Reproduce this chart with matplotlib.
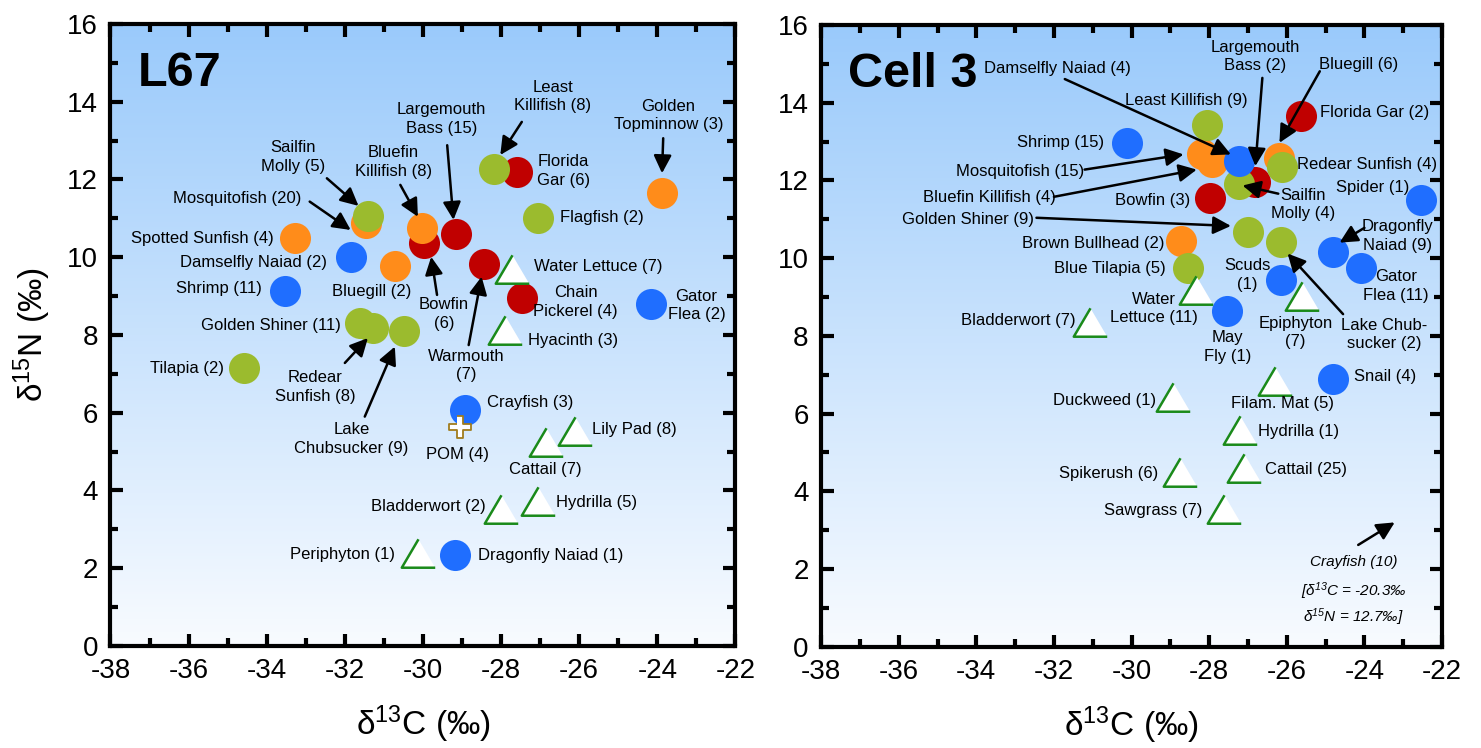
import numpy as np
import matplotlib
matplotlib.use("Agg")
import matplotlib.pyplot as plt
from matplotlib import font_manager
from matplotlib.colors import LinearSegmentedColormap
from matplotlib.ticker import MultipleLocator

# ---- data: L67 ----
l67_taxa = ["Least\nKillifish", "Florida\nGar", "Golden\nTopminnow", "Flagfish", "Sailfin\nMolly",
            "Mosquitofish", "Spotted Sunfish", "Damselfly Naiad", "Bluefin\nKillifish", "Bowfin\n",
            "Largemouth\nBass", "Bluegill", "Warmouth\n", "Chain\nPickerel", "Gator\nFlea",
            "Shrimp", "Golden Shiner", "Redear\nSunfish", "Lake\nChubsucker", "Tilapia",
            "Crayfish", "Dragonfly Naiad", "Water Lettuce", "Hyacinth", "Cattail",
            "Lily Pad", "Bladderwort", "Hydrilla", "Periphyton", "POM"]
l67_n = [8, 6, 3, 2, 5, 20, 4, 2, 8, 6, 15, 2, 7, 4, 2, 11, 11, 8, 9, 2, 3, 1, 7, 3, 7, 8, 2, 5, 1, 4]
l67_group = ["g", "r", "o", "g", "g", "o", "o", "b", "o", "r", "r", "o", "r", "r", "b",
             "b", "g", "g", "g", "g", "b", "b", "p", "p", "p", "p", "p", "p", "p", "pom"]
l67_d13c = [-28.17, -27.60, -23.88, -27.06, -31.42, -31.47, -33.28, -31.85, -30.02, -29.98,
            -29.16, -30.71, -28.43, -27.47, -24.15, -33.53, -31.61, -31.29, -30.49, -34.59,
            -28.93, -29.18, -27.72, -27.90, -26.84, -26.12, -28.01, -27.05, -30.13, -29.05]
l67_d15n = [12.26, 12.18, 11.66, 11.00, 11.07, 10.87, 10.50, 10.00, 10.76, 10.36,
            10.60, 9.78, 9.83, 8.96, 8.79, 9.13, 8.32, 8.19, 8.09, 7.14,
            6.06, 2.33, 9.70, 8.13, 5.24, 5.54, 3.52, 3.72, 2.39, 5.63]

# ---- data: Cell 3 ----
c3_taxa = ["Florida Gar", "Least Killifish", "Shrimp", "Mosquitofish", "Bluefin Killifish",
           "Damselfly Naiad", "Largemouth\nBass", "Sailfin\nMolly", "Bluegill", "Redear Sunfish",
           "Bowfin", "Spider", "Golden Shiner", "Lake Chub-\nsucker", "Brown Bullhead",
           "Dragonfly\nNaiad", "Gator\nFlea", "Blue Tilapia", "Scuds\n", "May\nFly",
           "Snail", "Water\nLettuce", "Epiphyton\n", "Bladderwort", "Filam. Mat",
           "Duckweed", "Hydrilla", "Spikerush", "Cattail", "Sawgrass"]
c3_n = [2, 9, 15, 15, 4, 4, 2, 4, 6, 4, 3, 1, 9, 2, 2, 9, 11, 5, 1, 1, 4, 11, 7, 7, 5, 1, 1, 6, 25, 7]
c3_group = ["r", "g", "b", "o", "o", "b", "r", "g", "o", "g", "r", "b", "g", "g", "o",
            "b", "b", "g", "b", "b", "b", "p", "p", "p", "p", "p", "p", "p", "p", "p"]
c3_d13c = [-25.64, -28.06, -30.12, -28.19, -27.93, -27.22, -26.81, -27.24, -26.21, -26.13,
           -27.99, -22.54, -26.99, -26.14, -28.72, -24.82, -24.10, -28.54, -26.16, -27.53,
           -24.80, -28.33, -25.62, -31.07, -26.31, -28.92, -27.20, -28.75, -27.11, -27.62]
c3_d15n = [13.65, 13.42, 12.97, 12.69, 12.48, 12.50, 11.96, 11.92, 12.57, 12.35,
           11.54, 11.51, 10.68, 10.42, 10.44, 10.17, 9.76, 9.76, 9.44, 8.64,
           6.90, 9.18, 9.03, 8.37, 6.85, 6.44, 5.58, 4.50, 4.61, 3.54]
crayfish_c3 = (10, -20.3, 12.7)  # n, d13C, d15N (off scale)

# ---- label layout ----
l67_lab = [(-26.68, 14.13, "center"), (-26.41, 12.22, "center"), (-23.72, 13.64, "center"),
           (-26.48, 11.02, "left"), (-33.33, 12.58, "center"), (-34.75, 11.51, "center"),
           (-35.64, 10.49, "center"), (-34.35, 9.87, "center"), (-30.75, 12.45, "center"),
           (-29.46, 8.54, "center"), (-29.52, 13.55, "center"), (-31.31, 9.13, "center"),
           (-28.89, 7.21, "center"), (-26.09, 8.85, "center"), (-23.00, 8.76, "center"),
           (-35.22, 9.19, "center"), (-33.89, 8.24, "center"), (-32.76, 6.66, "center"),
           (-31.83, 5.33, "center"), (-36.04, 7.14, "center"), (-28.37, 6.25, "left"),
           (-28.59, 2.33, "left"), (-27.17, 9.76, "left"), (-27.32, 7.85, "left"),
           (-26.86, 4.54, "center"), (-25.67, 5.56, "left"), (-29.86, 3.59, "center"),
           (-26.60, 3.69, "left"), (-32.06, 2.36, "center"), (-29.11, 4.93, "center")]
l67_arrows = [(-27.47, 13.48, -28.02, 12.63), (-23.85, 13.06, -23.88, 12.16),
              (-29.38, 12.88, -29.22, 10.96), (-32.46, 12.03, -31.65, 11.32),
              (-32.90, 11.43, -31.85, 10.70), (-30.58, 11.86, -30.13, 11.04),
              (-29.64, 9.03, -29.79, 10.01), (-28.83, 7.74, -28.50, 9.50),
              (-32.00, 7.28, -31.41, 7.92), (-31.49, 5.90, -30.72, 7.70)]

c3_lab = [(-25.15, 13.74, "left"), (-28.60, 14.05, "center"), (-31.84, 12.99, "center"),
          (-32.88, 12.22, "center"), (-33.67, 11.56, "center"), (-31.91, 14.89, "center"),
          (-26.81, 15.19, "center"), (-25.58, 11.38, "center"), (-24.16, 14.98, "center"),
          (-25.75, 12.41, "left"), (-29.47, 11.48, "center"), (-23.79, 11.83, "center"),
          (-34.22, 11.00, "center"), (-23.49, 8.04, "center"), (-30.99, 10.38, "center"),
          (-23.15, 10.57, "center"), (-23.18, 9.28, "center"), (-30.57, 9.73, "center"),
          (-27.01, 9.56, "center"), (-27.53, 7.72, "center"), (-24.28, 6.96, "left"),
          (-29.42, 8.71, "center"), (-25.77, 8.09, "center"), (-32.91, 8.39, "center"),
          (-26.10, 6.27, "center"), (-30.69, 6.34, "center"), (-26.75, 5.54, "left"),
          (-30.60, 4.45, "center"), (-26.56, 4.56, "left"), (-29.44, 3.50, "center")]
c3_arrows = [(-31.72, 14.61, -27.44, 12.67), (-26.63, 14.64, -26.81, 12.37),
             (-25.15, 14.81, -26.19, 12.97), (-31.21, 12.28, -28.66, 12.67),
             (-32.00, 11.58, -28.32, 12.28), (-26.22, 11.66, -27.14, 11.87),
             (-32.45, 11.04, -27.44, 10.83), (-24.55, 8.56, -25.98, 10.12),
             (-24.00, 10.78, -24.64, 10.40), (-24.16, 2.62, -23.22, 3.20)]

# ---- styles ----
names = {f.name for f in font_manager.fontManager.ttflist}
base = "Liberation Sans Narrow" if "Liberation Sans Narrow" in names else "Liberation Sans"
plt.rcParams["font.family"] = [base, "DejaVu Sans"]
plt.rcParams["mathtext.fontset"] = "custom"
plt.rcParams["mathtext.rm"] = base
plt.rcParams["mathtext.it"] = base + ":italic"
plt.rcParams["mathtext.default"] = "regular"
plt.rcParams["axes.unicode_minus"] = False

fill = {"r": "#C00000", "o": "#FF8C1A", "g": "#9BBB2E", "b": "#1F6EFF"}
tri = [(0, 0.85), (-1, -0.85), (1, -0.85)]
w = 0.33
plus = [(-w, 1), (w, 1), (w, w), (1, w), (1, -w), (w, -w), (w, -1), (-w, -1),
        (-w, -w), (-1, -w), (-1, w), (-w, w)]
bg = LinearSegmentedColormap.from_list("bg", ["#F8FBFF", "#9ACAFB"])


def label_text(t, n):
    return f"{t}({n})" if t.endswith("\n") else f"{t} ({n})"


def panel(ax, taxa, n, group, d13c, d15n, lab, arrows, title):
    ax.imshow(np.linspace(0, 1, 256).reshape(-1, 1), cmap=bg, origin="lower",
              extent=[-38, -22, 0, 16], aspect="auto", zorder=0)
    d13c = np.array(d13c)
    d15n = np.array(d15n)
    group = np.array(group)
    for g in ["r", "o", "g", "b"]:
        m = group == g
        ax.scatter(d13c[m], d15n[m], s=500, c=fill[g], linewidths=0, zorder=3)
    m = group == "p"
    ax.scatter(d13c[m], d15n[m], s=580, marker=tri, facecolor="white",
               edgecolor="#1A8A1A", linewidths=1.8, zorder=4)
    m = group == "pom"
    ax.scatter(d13c[m], d15n[m], s=230, marker=plus, facecolor="white",
               edgecolor="#A07C1E", linewidths=1.3, zorder=5)
    for t, k, (x, y, ha) in zip(taxa, n, lab):
        ax.text(x, y, label_text(t, k), ha=ha, va="center", fontsize=12,
                linespacing=1.3, zorder=6)
    for x0, y0, x1, y1 in arrows:
        ax.annotate("", xy=(x1, y1), xytext=(x0, y0), zorder=7,
                    arrowprops=dict(arrowstyle="-|>", color="k", lw=1.8,
                                    mutation_scale=27, shrinkA=0, shrinkB=0))
    ax.text(-37.3, 14.72, title, fontsize=35, fontweight="bold", ha="left",
            va="center", zorder=6)
    ax.set_xlim(-38, -22)
    ax.set_ylim(0, 16)
    ax.xaxis.set_major_locator(MultipleLocator(2))
    ax.xaxis.set_minor_locator(MultipleLocator(1))
    ax.yaxis.set_major_locator(MultipleLocator(2))
    ax.yaxis.set_minor_locator(MultipleLocator(1))
    ax.tick_params(which="both", direction="in", top=True, right=True,
                   width=3, labelsize=20, pad=9)
    ax.tick_params(which="major", length=9)
    ax.tick_params(which="minor", length=6)
    for s in ax.spines.values():
        s.set_linewidth(3)
    ax.set_xlabel("δ$^{13}$C (‰)", fontsize=24, labelpad=14)


fig = plt.figure(figsize=(14.81, 7.48), dpi=100)
ax1 = fig.add_axes([0.0746, 0.1364, 0.422, 0.8316])
ax2 = fig.add_axes([0.5544, 0.1354, 0.4193, 0.8311])

panel(ax1, l67_taxa, l67_n, l67_group, l67_d13c, l67_d15n, l67_lab, l67_arrows, "L67")
ax1.set_ylabel("δ$^{15}$N (‰)", fontsize=24, labelpad=10)

# Cell 3: last arrow points toward the off-scale crayfish value
panel(ax2, c3_taxa, c3_n, c3_group, c3_d13c, c3_d15n, c3_lab, c3_arrows, "Cell 3")
cn, cx, cy = crayfish_c3
ax2.text(-24.28, 2.17, f"Crayfish ({cn})", style="italic", fontsize=11, ha="center", va="center")
ax2.text(-24.28, 1.44, f"[δ$^{{13}}$C = {cx}‰", style="italic", fontsize=11, ha="center", va="center")
ax2.text(-24.28, 0.75, f"δ$^{{15}}$N = {cy}‰]", style="italic", fontsize=11, ha="center", va="center")

fig.savefig("out.png", dpi=100)
